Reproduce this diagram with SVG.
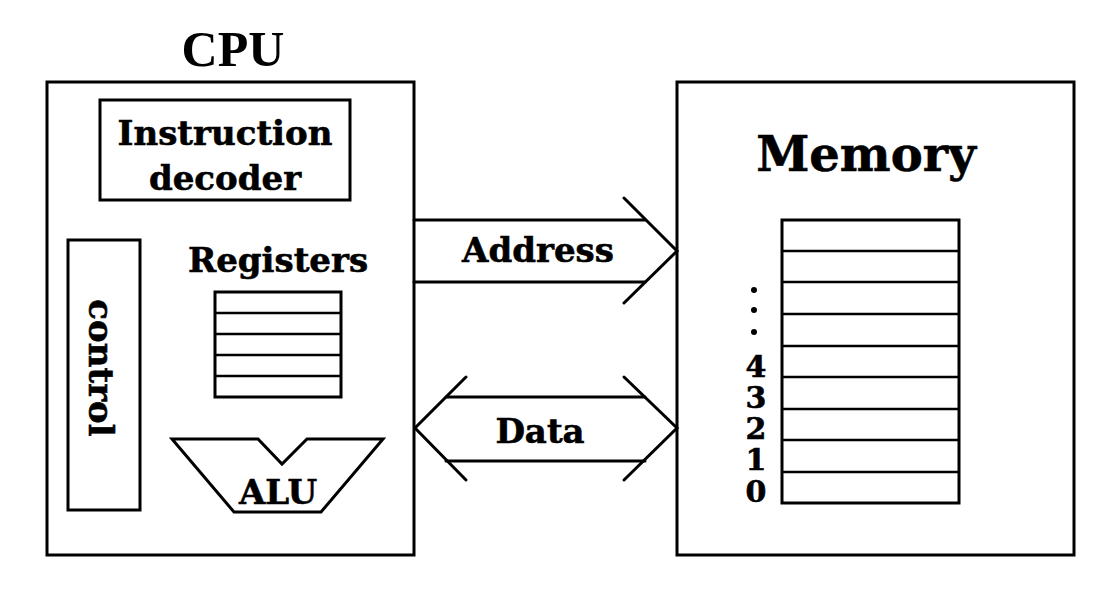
<svg xmlns="http://www.w3.org/2000/svg" width="1120" height="590" viewBox="0 0 1120 590">
<style>
.box{fill:none;stroke:#000;stroke-width:3}
.ln{fill:none;stroke:#000;stroke-width:2.5}
.bus{fill:none;stroke:#000;stroke-width:3;stroke-linecap:round;stroke-linejoin:miter}
.t{font-family:"DejaVu Serif",serif;font-weight:bold;font-size:34px;fill:#000;stroke:#000;stroke-width:0.6;text-anchor:middle}
.d{font-family:"DejaVu Serif",serif;font-weight:bold;font-size:30px;fill:#000;stroke:#000;stroke-width:0.6;text-anchor:middle}
.big{font-family:"Liberation Serif",serif;font-weight:bold;font-size:50px;fill:#000;text-anchor:middle}
</style>
<rect width="1120" height="590" fill="#fff"/>
<g id="cpu">
<rect class="box" x="47" y="82" width="367" height="473"/>
<text class="big" x="233" y="66">CPU</text>
</g>
<g id="instruction-decoder">
<rect class="box" x="100" y="100" width="250" height="100"/>
<text class="t" x="225" y="145">Instruction</text>
<text class="t" x="225" y="190">decoder</text>
</g>
<g id="control">
<rect class="box" x="68" y="240" width="72" height="270"/>
<text class="t" transform="translate(89,368) rotate(90)" x="0" y="0">control</text>
</g>
<g id="registers">
<text class="t" x="278" y="272">Registers</text>
<rect class="box" x="215" y="292" width="126" height="105"/>
<path class="ln" d="M215 313H341M215 334H341M215 355H341M215 376H341"/>
</g>
<g id="alu">
<path class="box" d="M172 439H258L282 464L307 439H383L321 512H234Z"/>
<text class="t" x="278" y="504">ALU</text>
</g>
<g id="memory">
<rect class="box" x="677" y="82" width="397" height="473"/>
<text class="t" style="font-size:48px" x="866" y="171">Memory</text>
<rect class="box" x="782" y="220" width="177" height="283"/>
<path class="ln" d="M782 251H959M782 282H959M782 314H959M782 346H959M782 377H959M782 409H959M782 440H959M782 472H959"/>
<circle cx="754" cy="290" r="3"/>
<circle cx="754" cy="310" r="3"/>
<circle cx="754" cy="332" r="3"/>
<text class="d" x="756" y="377">4</text>
<text class="d" x="756" y="408">3</text>
<text class="d" x="756" y="439">2</text>
<text class="d" x="756" y="470">1</text>
<text class="d" x="756" y="502">0</text>
</g>
<g id="connectors">
<g id="address-bus">
<path class="bus" d="M414 220H645M414 282H645"/>
<path class="bus" d="M624 198L677 251L624 303"/>
<text class="t" x="538" y="262">Address</text>
</g>
<g id="data-bus">
<path class="bus" d="M446 397H645M446 461H645"/>
<path class="bus" d="M466 377L415 428L466 480"/>
<path class="bus" d="M624 377L677 428L624 480"/>
<text class="t" x="540" y="443">Data</text>
</g>
</g>
</svg>
